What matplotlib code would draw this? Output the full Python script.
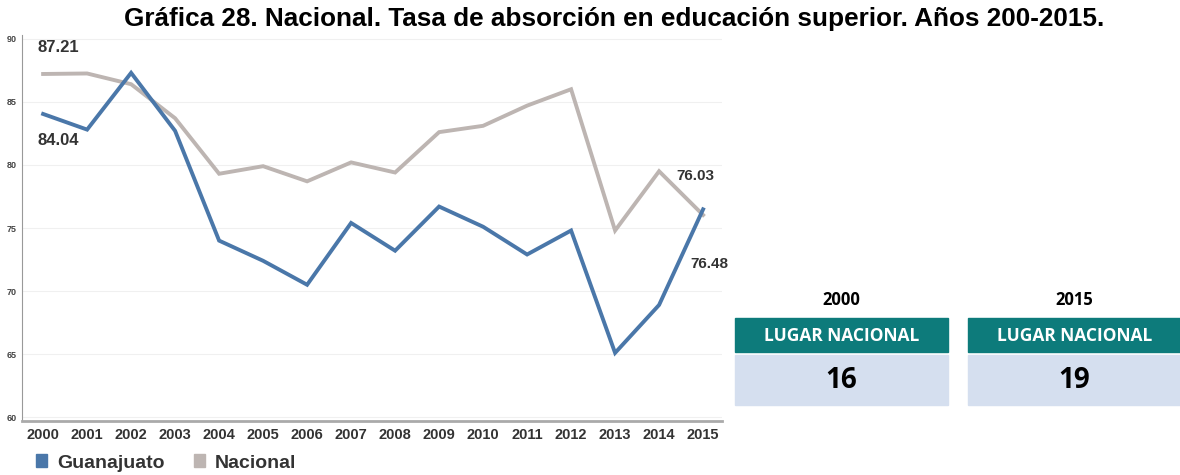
import matplotlib.pyplot as plt
from matplotlib.patches import Rectangle, Patch

years = list(range(2000, 2016))
guanajuato = [84.04, 82.8, 87.3, 82.7, 74.0, 72.4, 70.5, 75.4, 73.2, 76.7, 75.1, 72.9, 74.8, 65.1, 68.9, 76.48]
nacional = [87.21, 87.25, 86.4, 83.7, 79.3, 79.9, 78.7, 80.2, 79.4, 82.6, 83.1, 84.7, 86.0, 74.8, 79.5, 76.03]
rank_years = ["2000", "2015"]
ranks = ["16", "19"]

blue = "#4a77a9"
grey = "#bdb5b2"
teal = "#0d7b7b"
light = "#d5dfef"

plt.rcParams['font.family'] = ['Liberation Sans', 'DejaVu Sans']

fig = plt.figure(figsize=(11.8, 4.75), dpi=100)
W, H = 1180, 475

def px(x0, y0, x1, y1):
    return [x0 / W, 1 - y1 / H, (x1 - x0) / W, (y1 - y0) / H]

ax = fig.add_axes(px(22, 35, 722, 421))
ax.plot(years, guanajuato, color=blue, lw=2.8, solid_joinstyle='miter', zorder=3)
ax.plot(years, nacional, color=grey, lw=2.8, solid_joinstyle='miter', zorder=2)
ax.set_xlim(1999.52, 2015.43)
ax.set_ylim(59.7, 90.3)
ax.set_xticks(years)
ax.set_xticklabels([str(y) for y in years], fontsize=10.5, fontweight='bold', color='#333333')
ax.set_yticks([60, 65, 70, 75, 80, 85, 90])
ax.tick_params(axis='y', labelsize=6.5, length=0, pad=4, labelcolor='#444444')
ax.tick_params(axis='x', length=0, pad=5)
for lab in ax.get_yticklabels():
    lab.set_fontweight('bold')
ax.grid(axis='y', color='#f0f0f0', lw=0.8)
ax.set_axisbelow(True)
for s in ['top', 'right']:
    ax.spines[s].set_visible(False)
ax.spines['left'].set_color('#999999')
ax.spines['bottom'].set_color('#aaaaaa')
ax.spines['bottom'].set_linewidth(2)

ax.annotate(f"{nacional[0]:.2f}", (years[0], nacional[0]), xytext=(-4, 14), textcoords='offset points',
            fontsize=12, fontweight='bold', color='#333333', va='bottom', ha='left')
ax.annotate(f"{guanajuato[0]:.2f}", (years[0], guanajuato[0]), xytext=(-4, -14), textcoords='offset points',
            fontsize=12, fontweight='bold', color='#333333', va='top', ha='left')
ax.annotate(f"{nacional[-1]:.2f}", (years[-1], nacional[-1]), xytext=(8, 23), textcoords='offset points',
            fontsize=11, fontweight='bold', color='#333333', va='bottom', ha='right')
ax.annotate(f"{guanajuato[-1]:.2f}", (years[-1], guanajuato[-1]), xytext=(18, -34), textcoords='offset points',
            fontsize=11, fontweight='bold', color='#333333', va='top', ha='right')

fig.text(614 / W, 1 - 19 / H, "Gráfica 28. Nacional. Tasa de absorción en educación superior. Años 200-2015.",
         ha='center', va='center', fontsize=18.8, fontweight='bold')

fig.legend(handles=[Patch(color=blue, label="Guanajuato"), Patch(color=grey, label="Nacional")],
           loc='center left', bbox_to_anchor=(18 / W, 1 - 463 / H), ncol=2, frameon=False,
           prop={'size': 14, 'weight': 'bold'}, handlelength=0.6, handleheight=0.6,
           handletextpad=0.5, columnspacing=1.5, labelcolor='#333333')

# rank boxes
bx = fig.add_axes([0, 0, 1, 1], zorder=5)
bx.set_xlim(0, W)
bx.set_ylim(H, 0)
bx.axis('off')
for i, (yr, r) in enumerate(zip(rank_years, ranks)):
    x0 = 735 + i * 233
    w = 213
    bx.add_patch(Rectangle((x0, 318), w, 34, color=teal))
    bx.add_patch(Rectangle((x0, 355), w, 50, color=light))
    bx.text(x0 + w / 2, 300, yr, ha='center', va='center', fontsize=12, fontweight='bold',
            family=['Open Sans', 'DejaVu Sans'])
    bx.text(x0 + w / 2, 336, "LUGAR NACIONAL", ha='center', va='center', fontsize=12.5,
            fontweight='bold', color='white', family=['Open Sans', 'DejaVu Sans'])
    bx.text(x0 + w / 2, 381, r, ha='center', va='center', fontsize=20, fontweight='bold',
            family=['Open Sans', 'DejaVu Sans'])

fig.savefig("out.png", dpi=100)
